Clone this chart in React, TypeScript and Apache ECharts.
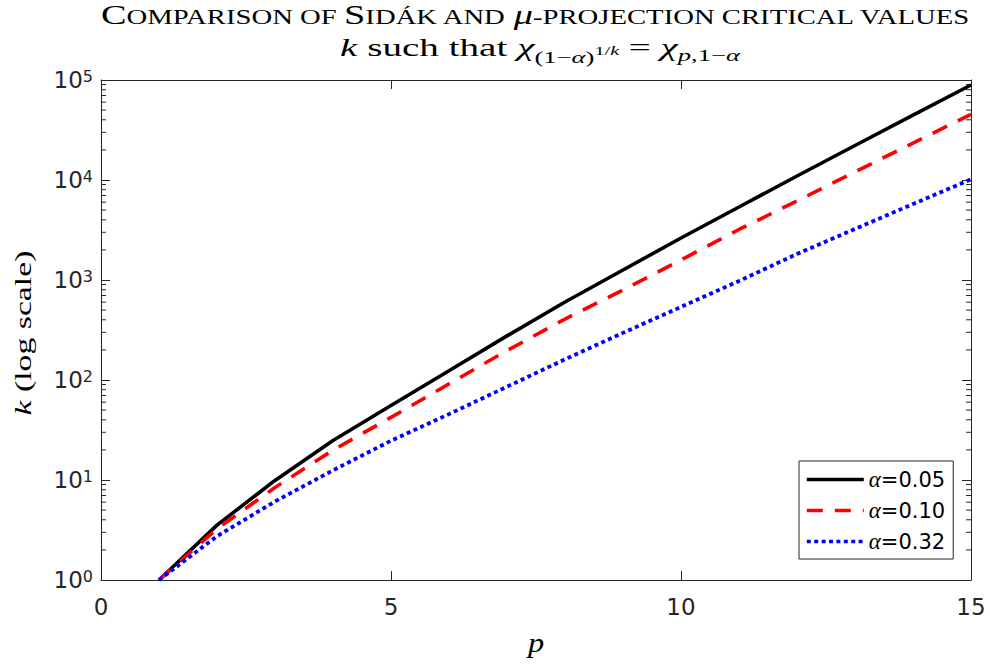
import React, { useEffect, useRef } from 'react';
import * as echarts from 'echarts';

// ---- data ----
const P_VALUES = [1, 2, 3, 4, 5, 6, 7, 8, 9, 10, 11, 12, 13, 14, 15];
const K_ALPHA_005 = [1, 3.54, 9.9, 24.8, 55.5, 123.6, 276, 603, 1259, 2630, 5370, 10960, 22130, 44460, 89130];
const K_ALPHA_010 = [1, 3.25, 8.4, 19.9, 42.3, 91.4, 197, 407, 794, 1585, 3200, 6170, 12050, 23390, 45400];
const K_ALPHA_032 = [1, 2.74, 6.1, 12.5, 24.7, 45.6, 85.7, 161, 296, 538, 977, 1820, 3240, 5750, 10160];
const SERIES_NAMES = ['α=0.05', 'α=0.10', 'α=0.32'];
const SERIES_COLORS = ['#000000', '#ff0000', '#0000ff'];

const X_MIN = 0;
const X_MAX = 15;
const X_INTERVAL = 5;
const Y_MIN = 1;
const Y_MAX = 100000;
const MINOR_DECADES = [1, 10, 100, 1000, 10000];
const MINOR_MULTIPLIERS = [2, 3, 4, 5, 6, 7, 8, 9];

const SERIF = '"Liberation Serif", "Times New Roman", serif';
const SANS = '"DejaVu Sans", "Liberation Sans", sans-serif';
const AXIS_COLOR = '#262626';

type Piece = { t: string; size: number; italic?: boolean; dy?: number; pre?: number };

const TITLE_LINE1: Piece[] = [
  { t: 'C', size: 28 },
  { t: 'OMPARISON OF ', size: 21 },
  { t: 'S', size: 28 },
  { t: 'IDÁK AND ', size: 21 },
  { t: 'μ', size: 28, italic: true },
  { t: '-PROJECTION CRITICAL VALUES', size: 21 },
];

const TITLE_LINE2: Piece[] = [
  { t: 'k ', size: 25, italic: true },
  { t: 'such that ', size: 25 },
  { t: 'χ', size: 25, italic: true },
  { t: '(1−', size: 17, dy: 7 },
  { t: 'α', size: 17, italic: true, dy: 7 },
  { t: ')', size: 17, dy: 7 },
  { t: '1/', size: 13, dy: -1 },
  { t: 'k', size: 13, italic: true, dy: -1 },
  { t: '= ', size: 25, pre: 6 },
  { t: 'χ', size: 25, italic: true },
  { t: 'p', size: 17, italic: true, dy: 5 },
  { t: ',1−', size: 17, dy: 5 },
  { t: 'α', size: 17, italic: true, dy: 5 },
];

const Y_LABEL: Piece[] = [
  { t: 'k ', size: 24, italic: true },
  { t: '(log scale)', size: 24 },
];

const X_LABEL: Piece[] = [{ t: 'p', size: 27, italic: true }];

export default function App() {
  const ref = useRef<HTMLDivElement>(null);

  useEffect(() => {
    if (!ref.current) return;
    const chart = echarts.init(ref.current, undefined, { renderer: 'svg' });
    const canvas = document.createElement('canvas');
    const ctx = canvas.getContext('2d') as CanvasRenderingContext2D;

    const textGroup = (pieces: Piece[], x: number, y: number, opts: { targetW?: number; scale?: number; rotation?: number }) => {
      const widths = pieces.map((p) => {
        ctx.font = `${p.italic ? 'italic ' : ''}${p.size}px ${SERIF}`;
        return ctx.measureText(p.t).width + (p.pre || 0);
      });
      const W = widths.reduce((a, b) => a + b, 0);
      let cur = 0;
      const children: any[] = [];
      pieces.forEach((p, i) => {
        children.push({
          type: 'text',
          x: -W / 2 + cur + (p.pre || 0),
          y: (p.dy || 0) - 0.34 * p.size,
          style: {
            text: p.t,
            fontSize: p.size,
            fontFamily: SERIF,
            fontStyle: p.italic ? 'italic' : 'normal',
            fill: '#000',
            align: 'left',
            verticalAlign: 'middle',
          },
        });
        cur += widths[i];
      });
      const sx = opts.targetW ? opts.targetW / W : opts.scale || 1;
      return { type: 'group', x, y, rotation: opts.rotation || 0, scaleX: sx, silent: true, children };
    };

    const minorTicks: number[][] = [];
    MINOR_DECADES.forEach((d) => MINOR_MULTIPLIERS.forEach((m) => minorTicks.push([X_MIN, d * m])));

    const lineData = (vals: number[]) => P_VALUES.map((p, i) => [p, vals[i]]);

    const axisLine = { show: true, onZero: false, lineStyle: { color: AXIS_COLOR, width: 1 } };

    const option: any = {
      animation: false,
      grid: { left: 101, right: 19, top: 80, bottom: 85 },
      xAxis: [
        {
          type: 'value', min: X_MIN, max: X_MAX, interval: X_INTERVAL, position: 'bottom',
          axisLine, axisTick: { inside: true, length: 9, lineStyle: { color: AXIS_COLOR } },
          axisLabel: { fontSize: 23, fontFamily: SANS, color: AXIS_COLOR, margin: 15 },
          splitLine: { show: false },
        },
        {
          type: 'value', min: X_MIN, max: X_MAX, interval: X_INTERVAL, position: 'top',
          axisLine, axisTick: { inside: true, length: 9, lineStyle: { color: AXIS_COLOR } },
          axisLabel: { show: false }, splitLine: { show: false },
        },
      ],
      yAxis: [
        {
          type: 'log', logBase: 10, min: Y_MIN, max: Y_MAX, position: 'left',
          axisLine, axisTick: { inside: true, length: 9, lineStyle: { color: AXIS_COLOR } },
          axisLabel: {
            margin: 8,
            formatter: (v: number) => `{b|10}{e|${Math.round(Math.log10(v))}}`,
            rich: {
              b: { fontSize: 23, fontFamily: SANS, color: AXIS_COLOR, lineHeight: 23, padding: [9, 0, 0, 0], verticalAlign: 'bottom' },
              e: { fontSize: 16, fontFamily: SANS, color: AXIS_COLOR, lineHeight: 16, padding: [0, 0, 0, 0], verticalAlign: 'top' },
            },
          },
          splitLine: { show: false },
        },
        {
          type: 'log', logBase: 10, min: Y_MIN, max: Y_MAX, position: 'right',
          axisLine, axisTick: { inside: true, length: 9, lineStyle: { color: AXIS_COLOR } },
          axisLabel: { show: false }, splitLine: { show: false },
        },
      ],
      legend: {
        data: SERIES_NAMES,
        orient: 'vertical',
        left: 799,
        top: 461,
        itemWidth: 57,
        itemHeight: 20,
        itemGap: 8,
        padding: [7, 8, 6, 6],
        borderColor: AXIS_COLOR,
        borderWidth: 1,
        borderRadius: 0,
        backgroundColor: '#ffffff',
        selectedMode: false,
        itemStyle: { opacity: 0 },
        lineStyle: { width: 3.6 },
        formatter: (name: string) => `{a|α}{b|${name.slice(1)}}`,
        textStyle: {
          rich: {
            a: { fontFamily: SERIF, fontStyle: 'italic', fontSize: 23, color: '#000', lineHeight: 20 },
            b: { fontFamily: SANS, fontSize: 21, color: '#000', lineHeight: 20 },
          },
        },
      },
      series: [
        {
          name: SERIES_NAMES[0], type: 'line', data: lineData(K_ALPHA_005), symbol: 'none', showSymbol: false,
          lineStyle: { color: SERIES_COLORS[0], width: 3.6, type: 'solid' }, itemStyle: { color: SERIES_COLORS[0] },
        },
        {
          name: SERIES_NAMES[1], type: 'line', data: lineData(K_ALPHA_010), symbol: 'none', showSymbol: false,
          lineStyle: { color: SERIES_COLORS[1], width: 3.6, type: [16, 12], cap: 'butt' }, itemStyle: { color: SERIES_COLORS[1] },
        },
        {
          name: SERIES_NAMES[2], type: 'line', data: lineData(K_ALPHA_032), symbol: 'none', showSymbol: false,
          lineStyle: { color: SERIES_COLORS[2], width: 3.8, type: [4, 3.4], cap: 'butt' }, itemStyle: { color: SERIES_COLORS[2] },
        },
        {
          type: 'custom', name: 'minorTicks', silent: true, clip: false, z: 1,
          data: minorTicks,
          encode: { x: 0, y: 1 },
          renderItem: (params: any, api: any) => {
            const cs = params.coordSys;
            const y = api.coord([X_MIN, api.value(1)])[1];
            const st = { stroke: AXIS_COLOR, lineWidth: 1 };
            return {
              type: 'group',
              children: [
                { type: 'line', shape: { x1: cs.x, y1: y, x2: cs.x + 5, y2: y }, style: st },
                { type: 'line', shape: { x1: cs.x + cs.width, y1: y, x2: cs.x + cs.width - 5, y2: y }, style: st },
              ],
            };
          },
        },
      ],
      graphic: [
        textGroup(TITLE_LINE1, 536, 24, { targetW: 870 }),
        textGroup(TITLE_LINE2, 540, 56, { targetW: 400 }),
        textGroup(Y_LABEL, 31, 333, { targetW: 165, rotation: Math.PI / 2 }),
        textGroup(X_LABEL, 536, 652, { scale: 1.2 }),
      ],
    };

    chart.setOption(option);
    return () => chart.dispose();
  }, []);

  return (
    <div
      ref={ref}
      style={{ position: 'fixed', left: 0, top: 0, width: 990, height: 665, background: '#ffffff' }}
    />
  );
}
